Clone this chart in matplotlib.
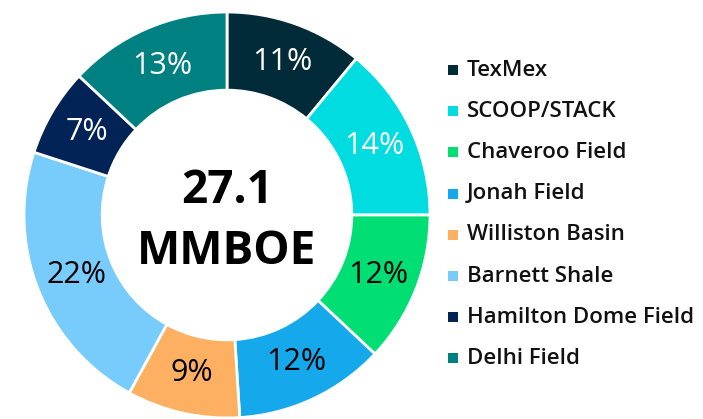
import numpy as np
import matplotlib.pyplot as plt
from matplotlib.patches import Rectangle

# Reserve split by asset (percent of 27.1 MMBOE)
assets = ['TexMex', 'SCOOP/STACK', 'Chaveroo Field', 'Jonah Field',
          'Williston Basin', 'Barnett Shale', 'Hamilton Dome Field', 'Delhi Field']
shares = [11, 14, 12, 12, 9, 22, 7, 13]
colors = ['#022b3a', '#00dce0', '#00de74', '#15a9ec',
          '#fdb062', '#78ccfb', '#012356', '#008080']
label_colors = ['white', 'white', 'black', 'black', 'black', 'black', 'white', 'white']
total_label = '27.1\nMMBOE'

plt.rcParams['font.family'] = ['Open Sans', 'DejaVu Sans']

fig = plt.figure(figsize=(7.03, 4.19), dpi=100)
ax = fig.add_axes([22 / 703, -1 / 419, 410 / 703, 410 / 419])

wedges, texts = ax.pie(shares, colors=colors, startangle=90, counterclock=False,
                       radius=1.0,
                       wedgeprops=dict(width=0.385, edgecolor='white', linewidth=2))

# percentage labels in the middle of the ring
angle = 90.0
total = sum(shares)
for v, c in zip(shares, label_colors):
    span = 360.0 * v / total
    mid = np.deg2rad(angle - span / 2)
    r = 0.80
    ax.text(r * np.cos(mid), r * np.sin(mid), f'{v}%', ha='center', va='center',
            fontsize=22, fontweight='medium', color=c)
    angle -= span

ax.text(0, -0.03, total_label, ha='center', va='center', fontsize=33,
        fontweight='bold', linespacing=1.4)
ax.set_xlim(-1.01, 1.01)
ax.set_ylim(-1.01, 1.01)
ax.set_aspect('equal')
ax.axis('off')

# legend on the right
y0 = 70
step = 41.2
for i, (name, col) in enumerate(zip(assets, colors)):
    yc = y0 + i * step
    fig.patches.append(Rectangle(((448) / 703, 1 - (yc + 5) / 419), 10 / 703, 10 / 419,
                                 transform=fig.transFigure, facecolor=col,
                                 edgecolor='none'))
    fig.text(467 / 703, 1 - yc / 419, name, ha='left', va='center',
             fontsize=16, fontweight='semibold', color='#111111')

plt.savefig('out.png', dpi=100)
